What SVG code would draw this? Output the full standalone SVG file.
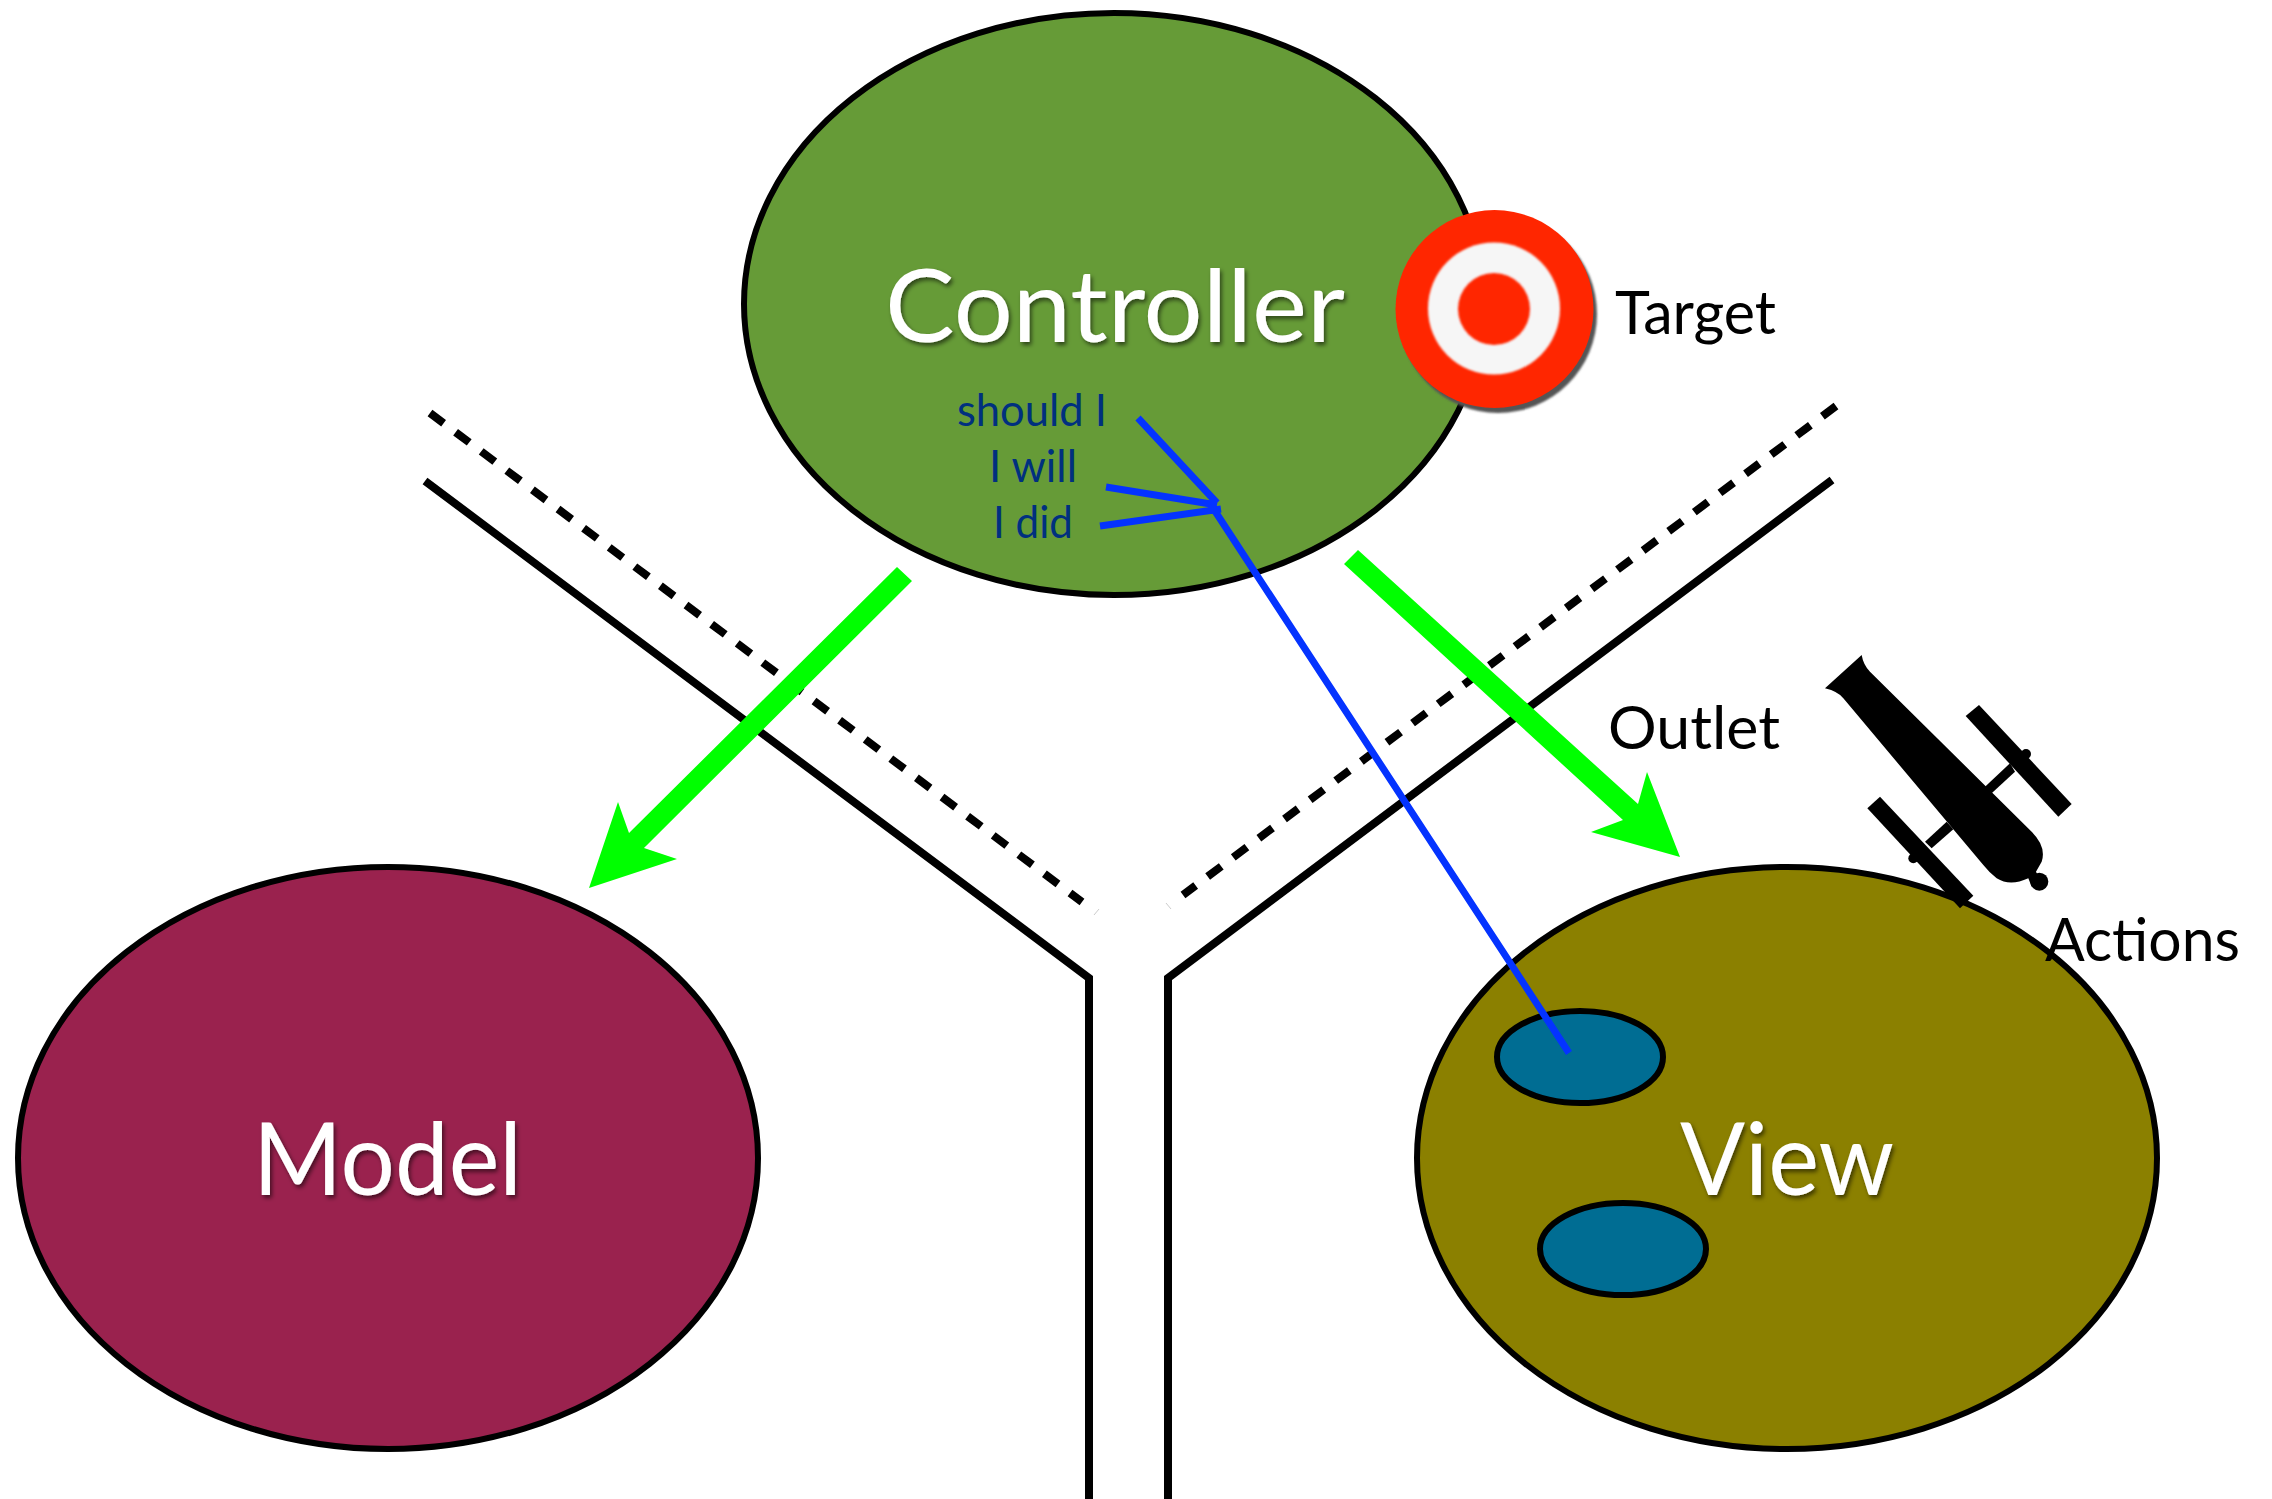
<svg xmlns="http://www.w3.org/2000/svg" width="2272" height="1499" viewBox="0 0 2272 1499">
<defs>
<filter id="ts" x="-10%" y="-20%" width="120%" height="140%"><feDropShadow dx="2" dy="3" stdDeviation="2" flood-color="#000" flood-opacity="0.55"/></filter>
<filter id="soft" x="-10%" y="-10%" width="120%" height="120%"><feGaussianBlur stdDeviation="1.2"/></filter>
<filter id="soft2" x="-10%" y="-10%" width="120%" height="120%"><feGaussianBlur stdDeviation="0.6"/></filter>
</defs>
<style>
text{font-family:"Lato","Noto Sans","Liberation Sans",sans-serif}
.big{font-size:100px;fill:#fff;filter:url(#ts)}
.mid{font-size:60px;fill:#000}
.small{font-size:44px;fill:#00307f}
.node{stroke:#000;stroke-width:6}
.wall{fill:none;stroke:#000;stroke-width:8}
.dash{fill:none;stroke:#000;stroke-width:8;stroke-dasharray:17 15}
.blue{fill:none;stroke:#0433ff;stroke-width:7}
.green{fill:#00ff00}
.hole{fill:#006d93;stroke:#000;stroke-width:6}
</style>
<rect width="2272" height="1499" fill="#fff"/>
<g id="controller">
<ellipse class="node" cx="1114" cy="304" rx="370" ry="291" fill="#669b37"/>
<text class="big" x="885" y="342" textLength="460" lengthAdjust="spacingAndGlyphs">Controller</text>
<text class="small" x="957" y="426" textLength="150" lengthAdjust="spacingAndGlyphs">should I</text>
<text class="small" x="989" y="482" textLength="88" lengthAdjust="spacingAndGlyphs">I will</text>
<text class="small" x="993" y="538" textLength="80" lengthAdjust="spacingAndGlyphs">I did</text>
</g>
<g id="model">
<ellipse class="node" cx="388" cy="1158" rx="370" ry="291" fill="#9a224e"/>
<text class="big" x="253" y="1195" textLength="269" lengthAdjust="spacingAndGlyphs">Model</text>
</g>
<g id="view">
<ellipse class="node" cx="1787" cy="1158" rx="370" ry="291" fill="#8b8000"/>
<text class="big" x="1680" y="1195" textLength="214" lengthAdjust="spacingAndGlyphs">View</text>
<ellipse id="view-outlet-1" class="hole" cx="1580" cy="1057" rx="83" ry="46"/>
<ellipse id="view-outlet-2" class="hole" cx="1623" cy="1249" rx="83" ry="46"/>
</g>
<g id="connectors">
<path class="wall" d="M425 481L1089 978V1499"/>
<path class="wall" d="M1832 480L1168 978V1499"/>
<path class="dash" d="M430 413L1082 902"/>
<path class="dash" d="M1836 406L1183 895"/>
<path d="M1094 915L1099 909M1166 903L1171 909" stroke="#ccc" stroke-width="1" fill="none"/>
<polygon class="green" points="897,567 912,581 644,848 677,859 589,888 618,802 629,833"/>
<polygon class="green" points="1358,550 1344,564 1623,820 1591,832 1680,857 1647,772 1638,804"/>
<path class="blue" d="M1138 418L1217 503M1106 487L1217 505M1100 526L1221 509M1213 508L1569 1053"/>
</g>
<g id="target">
<circle cx="1498" cy="314" r="99" fill="#555" filter="url(#soft)"/>
<circle cx="1494.5" cy="309" r="99" fill="#ff2600" filter="url(#soft2)"/>
<circle cx="1494" cy="308.5" r="66" fill="#f6f6f6" filter="url(#soft)"/>
<circle cx="1494" cy="309" r="36" fill="#ff2600" filter="url(#soft)"/>
<text class="mid" x="1615" y="334" textLength="161" lengthAdjust="spacingAndGlyphs">Target</text>
</g>
<g id="outlet-label">
<text class="mid" x="1608" y="749" textLength="172" lengthAdjust="spacingAndGlyphs">Outlet</text>
</g>
<g id="actions">
<g transform="translate(1780 630) scale(0.33333)" filter="url(#soft2)">
<path d="M245 75Q250 105 270 125L755 605Q800 650 785 695L768 725L790 770L755 770L745 745Q690 770 650 745Q630 730 610 705L190 205Q175 185 135 175Z"/>
<circle cx="778" cy="755" r="27"/>
<polygon points="597,225 557,258 835,560 875,522"/>
<polygon points="690,400 705,425 635,490 615,470"/>
<circle cx="738" cy="372" r="15"/>
<polygon points="300,500 262,535 540,835 580,797"/>
<polygon points="500,575 520,598 455,655 435,635"/>
<circle cx="400" cy="685" r="15"/>
</g>
<text class="mid" x="2045" y="961" textLength="195" lengthAdjust="spacingAndGlyphs">Actions</text>
</g>
</svg>
